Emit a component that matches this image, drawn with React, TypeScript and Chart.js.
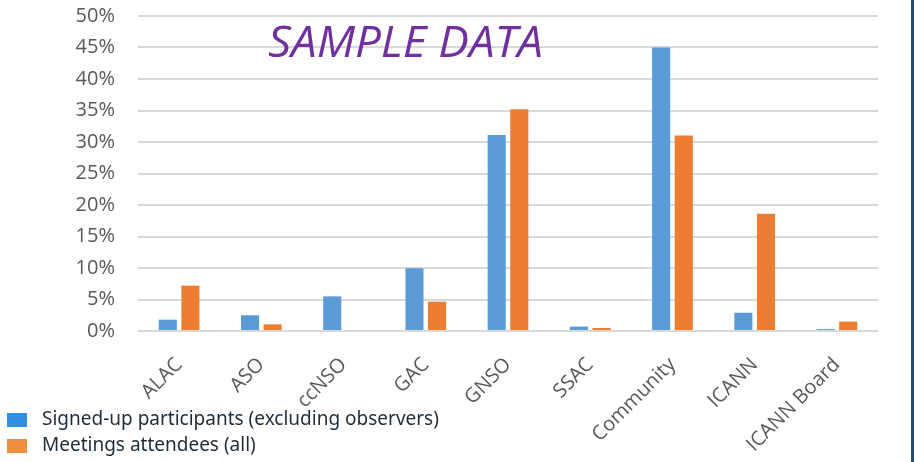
import React, { useEffect, useRef } from "react";
import { Chart, registerables } from "chart.js";

Chart.register(...registerables);

const categories = ["ALAC", "ASO", "ccNSO", "GAC", "GNSO", "SSAC", "Community", "ICANN", "ICANN Board"];
const signedUp = [1.8, 2.5, 5.5, 9.95, 31.1, 0.7, 45.0, 2.9, 0.3];
const attendees = [7.2, 1.05, 0, 4.65, 35.2, 0.48, 31.05, 18.6, 1.5];
const seriesLabels = ["Signed-up participants (excluding observers)", "Meetings attendees (all)"];
const yTicks = [0, 5, 10, 15, 20, 25, 30, 35, 40, 45, 50];
const watermark = "SAMPLE DATA";

const BAR_BLUE = "#5B9BD5";
const BAR_ORANGE = "#ED7D31";
const LEGEND_BLUE = "#2F8FE3";
const LEGEND_ORANGE = "#EC8F3E";

const overlayPlugin = {
  id: "overlay",
  afterDraw(chart: any) {
    const ctx = chart.ctx as CanvasRenderingContext2D;
    ctx.save();
    // watermark title
    ctx.font = "italic 44px 'Open Sans'";
    ctx.fillStyle = "#7030A0";
    ctx.textBaseline = "alphabetic";
    ctx.textAlign = "left";
    const w = ctx.measureText(watermark).width;
    const target = 275;
    ctx.translate(268, 57);
    ctx.scale(target / w, 1);
    ctx.fillText(watermark, 0, 0);
    ctx.restore();

    // legend
    ctx.save();
    ctx.font = "19px 'Noto Sans'";
    ctx.textBaseline = "middle";
    ctx.textAlign = "left";
    const cols = [LEGEND_BLUE, LEGEND_ORANGE];
    const ys = [420, 446];
    seriesLabels.forEach((lab, i) => {
      ctx.fillStyle = cols[i];
      ctx.fillRect(7, ys[i] - 7, 20, 14);
      ctx.fillStyle = "#1F2D3A";
      ctx.fillText(lab, 42, ys[i]);
    });
    // right border
    ctx.fillStyle = "#1F4E79";
    ctx.fillRect(911, 0, 3, 462);
    ctx.restore();
  },
};

export default function App() {
  const ref = useRef<HTMLCanvasElement>(null);
  useEffect(() => {
    document.body.style.margin = "0";
    const chart = new Chart(ref.current!, {
      type: "bar",
      data: {
        labels: categories,
        datasets: [
          { label: seriesLabels[0], data: signedUp, backgroundColor: BAR_BLUE, categoryPercentage: 0.55, barPercentage: 0.8 },
          { label: seriesLabels[1], data: attendees, backgroundColor: BAR_ORANGE, categoryPercentage: 0.55, barPercentage: 0.8 },
        ],
      },
      options: {
        animation: false,
        responsive: false,
        layout: { padding: { top: 16, right: 36, left: 0, bottom: 0 } },
        plugins: { legend: { display: false }, tooltip: { enabled: false } },
        scales: {
          x: {
            grid: { display: false, drawTicks: false },
            border: { display: false },
            ticks: {
              maxRotation: 45,
              minRotation: 45,
              padding: 22,
              color: "#595959",
              font: { family: "'Open Sans'", size: 20 },
            },
            afterFit: (s: any) => {
              s.height = 131;
              s.paddingLeft = 0;
              s.paddingRight = 0;
            },
          },
          y: {
            min: 0,
            max: 50,
            afterBuildTicks: (s: any) => {
              s.ticks = yTicks.map((v) => ({ value: v }));
            },
            grid: { color: "#D9D9D9", lineWidth: 2, drawTicks: false },
            border: { display: false },
            ticks: {
              padding: 23,
              color: "#595959",
              font: { family: "'Open Sans'", size: 20 },
              callback: (v: any) => `${v}%`,
            },
            afterFit: (s: any) => {
              s.width = 138;
              s.paddingTop = 0;
              s.paddingBottom = 0;
            },
          },
        },
      },
      plugins: [overlayPlugin],
    });
    return () => chart.destroy();
  }, []);
  return (
    <div style={{ position: "fixed", left: 0, top: 0, width: 914, height: 462, background: "#fff" }}>
      <canvas ref={ref} width={914} height={462} />
    </div>
  );
}
